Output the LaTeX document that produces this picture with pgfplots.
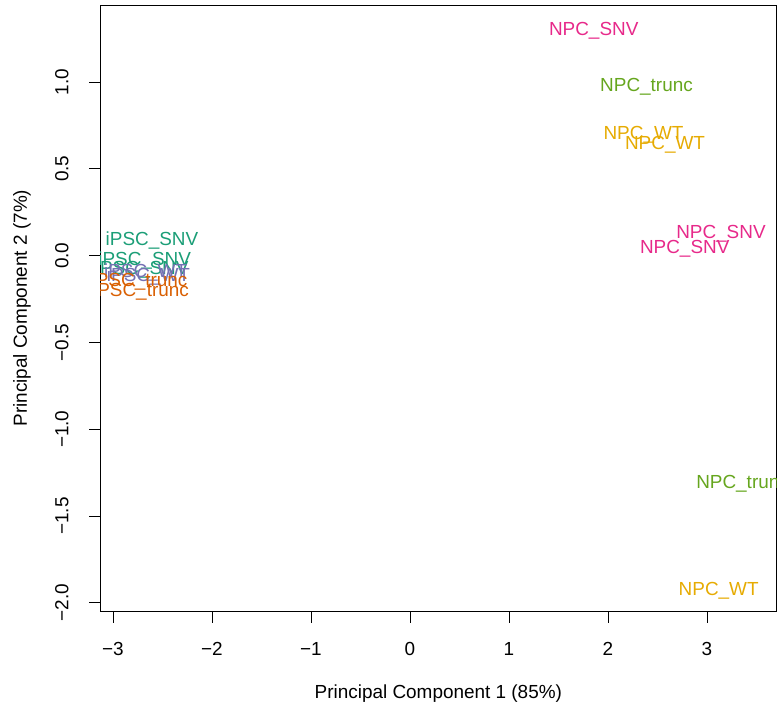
\documentclass[border=0pt]{standalone}
\usepackage{fontspec}
\setmainfont{Liberation Sans}
\usepackage{pgfplots}
\pgfplotsset{compat=1.18}
\definecolor{dteal}{HTML}{1B9E77}
\definecolor{dorange}{HTML}{D95F02}
\definecolor{dpurple}{HTML}{7570B3}
\definecolor{dpink}{HTML}{E7298A}
\definecolor{dgreen}{HTML}{66A61E}
\definecolor{dyellow}{HTML}{E6AB02}
\begin{document}
\begin{tikzpicture}
\useasboundingbox (-100.7bp,-99bp) rectangle (676.3bp,611bp);
\begin{axis}[
  at={(0,0)}, anchor=south west,
  scale only axis, width=675.3bp, height=605.7bp,
  xmin=-3.124, xmax=3.697, ymin=-2.047, ymax=1.442,
  axis line style={line width=0.9bp},
  tick style={line width=0.9bp, black},
  tick align=outside, major tick length=11.5bp,
  xtick={-3,-2,-1,0,1,2,3},
  xticklabels={−3,−2,−1,0,1,2,3},
  ytick={-2,-1.5,-1,-0.5,0,0.5,1},
  yticklabels={−2.0,−1.5,−1.0,−0.5,0.0,0.5,1.0},
  xtick pos=bottom, ytick pos=left,
  ticklabel style={font=\fontsize{19}{22}\selectfont},
  xticklabel style={anchor=north, yshift=-16bp},
  yticklabel style={xshift=-17bp, rotate=90, anchor=south},
  xlabel={Principal Component 1 (85\%)},
  ylabel={Principal Component 2 (7\%)},
  label style={font=\fontsize{19}{22}\selectfont},
  xlabel style={at={(axis description cs:0.5,-0.137)}, anchor=center},
  ylabel style={at={(axis description cs:-0.1165,0.5)}, anchor=center},
  clip=true, clip marker paths=true,
  every axis plot/.append style={draw=none, mark=none, nodes near coords, point meta=explicit symbolic,
     nodes near coords style={anchor=base, yshift=-6.8bp, inner sep=0pt, font=\fontsize{19}{22}\selectfont}},
]
% iPSC_SNV
\addplot[nodes near coords style={text=dteal}] coordinates {
 (-2.606,0.099) [iPSC\_SNV]
 (-2.680,-0.020) [iPSC\_SNV]
 (-2.705,-0.068) [iPSC\_SNV]
};
% iPSC_WT
\addplot[nodes near coords style={text=dpurple}] coordinates {
 (-2.670,-0.085) [iPSC\_WT]
 (-2.641,-0.112) [iPSC\_WT]
};
% iPSC_trunc
\addplot[nodes near coords style={text=dorange}] coordinates {
 (-2.732,-0.140) [iPSC\_trunc]
 (-2.717,-0.198) [iPSC\_trunc]
};
% NPC_SNV
\addplot[nodes near coords style={text=dpink}] coordinates {
 (1.856,1.306) [NPC\_SNV]
 (3.141,0.140) [NPC\_SNV]
 (2.775,0.051) [NPC\_SNV]
};
% NPC_trunc
\addplot[nodes near coords style={text=dgreen}] coordinates {
 (2.389,0.982) [NPC\_trunc]
 (3.359,-1.302) [NPC\_trunc]
};
% NPC_WT
\addplot[nodes near coords style={text=dyellow}] coordinates {
 (2.359,0.709) [NPC\_WT]
 (2.576,0.651) [NPC\_WT]
 (3.118,-1.917) [NPC\_WT]
};
\end{axis}
\end{tikzpicture}
\end{document}
